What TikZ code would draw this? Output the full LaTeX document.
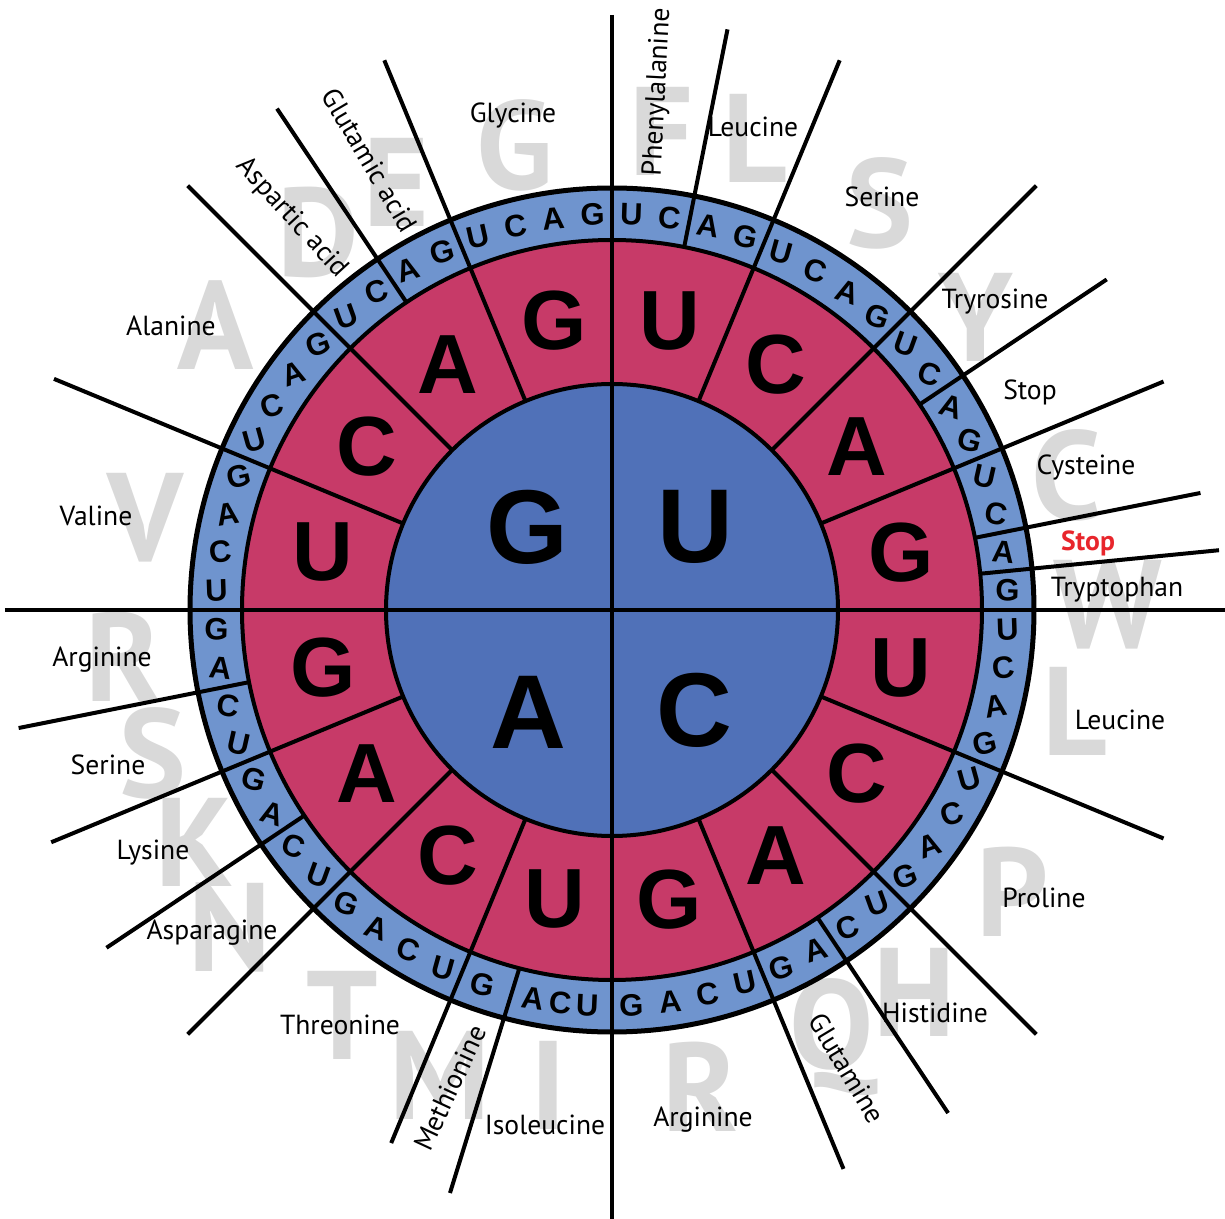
\documentclass[tikz,border=0pt]{standalone}
\usepackage{fontspec}
\setmainfont{PT Sans}
\newfontfamily\nucfont{Liberation Sans}
\definecolor{ringred}{HTML}{C73A68}
\definecolor{coreblue}{HTML}{5071B8}
\definecolor{rimblue}{HTML}{6F94CE}
\definecolor{shade}{HTML}{D9D9D9}
\definecolor{stopred}{HTML}{E8262C}

\begin{document}
\begin{tikzpicture}[x=0.5pt,y=0.5pt,line width=2pt,
  every node/.style={inner sep=0pt},
  aalabel/.style={font=\fontsize{13.8}{15}\selectfont},
  aacode/.style={font=\fontsize{63}{70}\selectfont\bfseries, text=shade},
  nuc/.style={font=\nucfont\bfseries\fontsize{15.5}{16}\selectfont},
  nucmid/.style={font=\nucfont\bfseries\fontsize{42}{44}\selectfont},
  nucbig/.style={font=\nucfont\bfseries\fontsize{52.5}{55}\selectfont}]
	\useasboundingbox (-612,-609) rectangle (613,610);
	% one-letter codes in the background
	\foreach \x/\y/\c in {-97/465/G,-216/428/E,-294/378/D,-396/285/A,-467/92/V,-489/-47/R,
	  -459/-143/S,-417/-232/K,-382/-317/N,-270/-405/T,-172/-465/M,-64/-475/I,88/-477/R,
	  220/-427/Q,303/-382/H,401/-282/P,463/-101/L,496/5/W,455/135/C,364/293/Y,268/407/S,
	  143/472/L,50/479/F}
	  {\node[aacode] at (\x,\y) {\c};}
	% rings
	\fill[rimblue] (0,0) circle (422);
	\fill[ringred] (0,0) circle (370);
	\fill[coreblue] (0,0) circle (226);
	\draw[line width=2.5pt] (0,0) circle (422);
	\draw (0,0) circle (370) (0,0) circle (226);
	\draw (0,595) -- (0,-609);
	\draw (-607,0) -- (613,0);
	% boundaries between amino acids (angle clockwise from top / end radius / start radius)
	\foreach \t/\len/\st in {11.25/592/370,22.5/595/226,45/600/226,56.25/595/370,67.5/597/226,
	  78.75/600/370,84.375/610/370,112.5/597/226,135/600/226,146.25/605/370,157.5/605/226,
	  202.5/577/226,225/600/226,236.25/608/370,247.5/607/226,258.75/605/370,
	  292.5/604/226,315/600/226,326.25/603/370,337.5/595/226}
	  {\draw (90-\t:\st) -- (90-\t:\len);}
	\coordinate (metend) at (-162,-583);
	\draw (-104.5:370) -- (metend);
	% first base
	\node[nucbig] at (-85,83) {G};
	\node[nucbig] at (83,83) {U};
	\node[nucbig] at (-84,-102) {A};
	\node[nucbig] at (82,-100) {C};
	% second and third base
	\foreach \fb [count=\i from 0] in {U,C,A,G} {
	  \foreach \sb [count=\j from 0] in {U,C,A,G} {
	    \pgfmathsetmacro\mid{90-(\i*90+\j*22.5+11.25)}
	    \node[nucmid] at (\mid:295) {\sb};
	    \ifnum\i\j=20 \else
	    \foreach \tb [count=\k from 0] in {U,C,A,G} {
	      \pgfmathsetmacro\ang{90-(\i*90+\j*22.5+\k*5.625+2.8125)}
	      \pgfmathsetmacro\tilt{-20*sin(2*\ang)}
	      \node[nuc, rotate=\tilt] at (\ang:396) {\tb};
	    }
	    \fi
	  }
	}
	% AU* sits unevenly: three for isoleucine, a wider slot for the start codon
	\foreach \t/\tb in {183.6/U,187.4/C,191.5/A,199.1/G}
	  {\node[nuc, rotate={-20*sin(2*(90-\t))}] at (90-\t:396) {\tb};}
	% amino acids
	\foreach \x/\y/\name in {141/483/Leucine,270/413/Serine,383/308/Tryrosine,418/218/Stop,
	  474/142/Cysteine,505/20/Tryptophan,508/-110/Leucine,432/-288/Proline,323/-403/Histidine,
	  91/-510/Arginine,-67/-515/Isoleucine,-272/-415/Threonine,-400/-323/Asparagine,
	  -459/-243/Lysine,-504/-155/Serine,-510/-50/Arginine,-516/94/Valine,-441/284/Alanine,
	  -99/494/Glycine}
	  {\node[aalabel] at (\x,\y) {\name};}
	\node[aalabel, text=stopred, font=\fontsize{13.8}{15}\selectfont\bfseries] at (476,67) {Stop};
	\node[aalabel, rotate=87] at (46,518) {Phenylalanine};
	\node[aalabel, rotate=-59] at (235,-458) {Glutamine};
	\node[aalabel, rotate=65] at (-162,-478) {Methionine};
	\node[aalabel, rotate=-47.5] at (-320,392) {Aspartic acid};
	\node[aalabel, rotate=-59.5] at (-242,450) {Glutamic acid};
\end{tikzpicture}
\end{document}
